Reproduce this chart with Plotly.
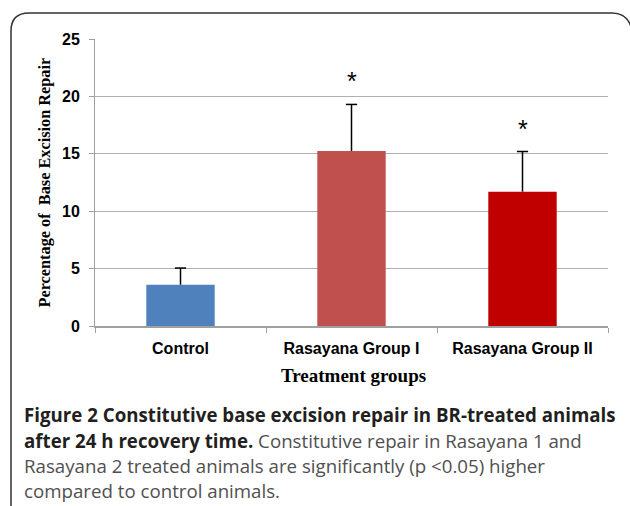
import plotly.graph_objects as go

# ---- data ----
categories = ["Control", "Rasayana Group I", "Rasayana Group II"]
values = [3.6, 15.25, 11.7]
errors = [1.45, 4.05, 3.5]
significance = ["", "*", "*"]
y_ticks = [0, 5, 10, 15, 20, 25]

bar_colors = ["#4F81BD", "#C0504D", "#C00000"]

W, H = 630, 506
L, R, T, B = 95, 22, 39, 180  # plot area 95..608 x 39..326
PW, PH = W - L - R, H - T - B


def xp(px):
    return (px - L) / PW


def yp(py):
    return (H - B - py) / PH


fig = go.Figure()
fig.add_trace(go.Bar(
    x=categories, y=values,
    marker=dict(color=bar_colors, line=dict(width=0)),
    width=0.40,
    hoverinfo="x+y",
))

# upward-only error bars (stem from bar top, cap at the end only)
stem_x, stem_y = [], []
for c, v, e in zip(categories, values, errors):
    stem_x += [c, c, None]
    stem_y += [v, v + e, None]
fig.add_trace(go.Scatter(x=stem_x, y=stem_y, mode="lines",
                         line=dict(color="#000", width=1.5), hoverinfo="skip"))
fig.add_trace(go.Scatter(x=categories, y=[v + e for v, e in zip(values, errors)],
                         mode="markers",
                         marker=dict(symbol="line-ew", size=8, color="#000",
                                     line=dict(color="#000", width=1.5)),
                         hoverinfo="skip"))

# significance asterisks
for c, v, e, s in zip(categories, values, errors, significance):
    if s:
        fig.add_annotation(x=c, y=v + e + 2.0, text=s, showarrow=False,
                           xref="x", yref="y", yanchor="middle",
                           font=dict(family="Liberation Sans", size=25, color="#000"))

fig.update_layout(
    width=W, height=H,
    margin=dict(l=L, r=R, t=T, b=B, autoexpand=False),
    paper_bgcolor="white", plot_bgcolor="white",
    showlegend=False,
    bargap=0.6,
)
fig.update_yaxes(
    range=[0, 25], tickvals=y_ticks, showgrid=True, gridcolor="#b0b0b0", gridwidth=1,
    showline=True, linecolor="#a0a0a0", linewidth=1, zeroline=False,
    ticks="outside", ticklen=5, tickcolor="#a0a0a0", ticklabelstandoff=6,
    tickfont=dict(family="Liberation Sans", size=16, color="#000", weight="bold"),
)
fig.update_xaxes(
    showline=True, linecolor="#a0a0a0", linewidth=1.5,
    ticks="outside", ticklen=5, tickcolor="#a0a0a0", tickson="boundaries",
    ticklabelstandoff=7,
    tickfont=dict(family="Liberation Sans", size=16, color="#000", weight="bold"),
)

# axis titles
fig.add_annotation(xref="paper", yref="paper", x=xp(44), y=yp(182.5),
                   text="<b>Percentage of&nbsp; Base Excision Repair</b>",
                   textangle=-90, showarrow=False, xanchor="center", yanchor="middle",
                   font=dict(family="Liberation Serif", size=16.3, color="#000"))
fig.add_annotation(xref="paper", yref="paper", x=xp(353), y=yp(375),
                   text="<b>Treatment groups</b>",
                   showarrow=False, xanchor="center", yanchor="middle",
                   font=dict(family="Liberation Serif", size=19, color="#000"))

# caption
cap_font = dict(family="Open Sans", size=18.7, color="#231f20")
reg = "#505050"
caption_lines = [
    "<b>Figure 2 Constitutive base excision repair in BR-treated animals</b>",
    "<b>after 24 h recovery time.</b><span style='color:%s'> Constitutive repair in Rasayana 1 and</span>" % reg,
    "<span style='color:%s'>Rasayana 2 treated animals are significantly (p &lt;0.05) higher</span>" % reg,
    "<span style='color:%s'>compared to control animals.</span>" % reg,
]
for i, line in enumerate(caption_lines):
    fig.add_annotation(xref="paper", yref="paper", x=xp(22), y=yp(415 + 25.3 * i),
                       text=line, showarrow=False, xanchor="left", yanchor="middle",
                       font=cap_font)

# frame (rounded border, top & left)
path = "M %f %f L %f %f Q %f %f %f %f L %f %f Q %f %f %f %f" % (
    xp(11), yp(510), xp(11), yp(31),
    xp(11), yp(13), xp(29), yp(13),
    xp(612), yp(13),
    xp(628), yp(13), xp(632), yp(30),
)
fig.add_shape(type="path", path=path, xref="paper", yref="paper",
              line=dict(color="#333333", width=1.5))

fig.write_html("out.html", config={"displayModeBar": False},
               post_script="document.body.style.margin='0';document.body.style.padding='0';")
